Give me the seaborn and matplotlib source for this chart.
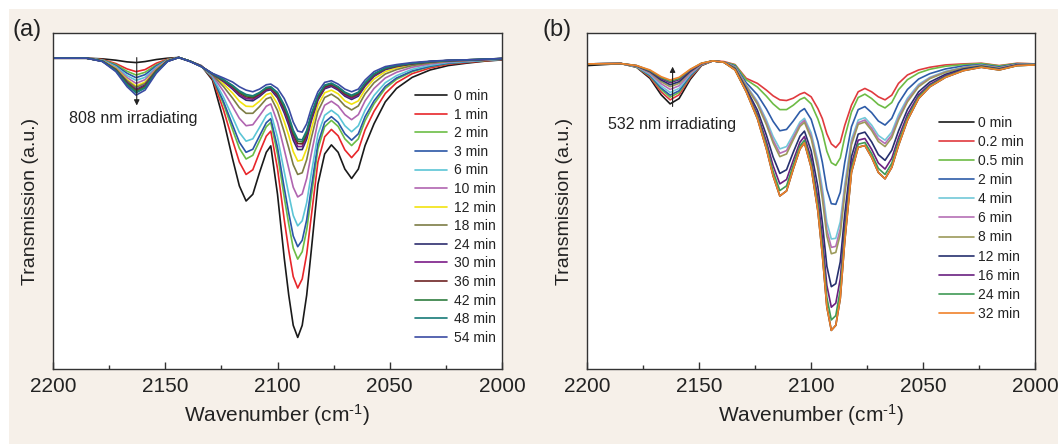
import matplotlib
matplotlib.use('Agg')
import matplotlib.pyplot as plt
from matplotlib.patches import Rectangle
from matplotlib.ticker import MultipleLocator
import seaborn as sns
import pandas as pd

#####  data (transmission in arbitrary units, 0-100 = axes height)

wavenumber = [2200, 2185, 2178, 2172, 2167, 2163, 2159, 2154, 2149, 2144, 2139, 2134,
              2129, 2124, 2120, 2117, 2114, 2111, 2108, 2105, 2103, 2100,
              2097, 2095, 2093, 2091, 2089, 2087, 2085, 2082, 2079, 2076,
              2073, 2070, 2067, 2064, 2061, 2057, 2052, 2047, 2040, 2032,
              2024, 2016, 2008, 2000]

# (a) 808 nm irradiation
times_a = ['0 min', '1 min', '2 min', '3 min', '6 min', '10 min', '12 min',
           '18 min', '24 min', '30 min', '36 min', '42 min', '48 min', '54 min']
colors_a = ['#1a1a1a', '#e8262a', '#6cbd45', '#2a56a6', '#5bc5d6', '#b065b0', '#f2e30f',
            '#7d7d45', '#2d2d6e', '#7b1b87', '#6e2424', '#2f7d3f', '#177a78', '#3b4ba3']

a_0 = [92.5, 92.5, 92.3, 91.9, 91.4, 91.2, 91.5, 92.1, 92.5, 92.7, 91.6, 90.3,
       86.0, 74.0, 62.5, 54.5, 50.0, 52.0, 58.5, 64.5, 66.4, 52.0, 33.0, 22.0, 13.0, 9.4, 13.0, 22.0,
       35.0, 55.0, 64.0, 66.7, 64.5, 59.5, 56.7, 59.5, 66.5, 73.0, 79.5, 83.5, 86.8, 89.0, 90.3, 91.0, 91.6, 92.0]
a_1 = [92.5, 92.5, 92.1, 90.9, 89.3, 88.5, 89.1, 91.0, 92.2, 92.7, 91.6, 90.2,
       86.5, 77.0, 68.0, 61.6, 57.9, 59.3, 64.5, 69.3, 70.8, 59.6, 44.4, 35.3, 27.5, 24.1, 26.8, 34.2,
       45.2, 61.6, 69.1, 71.3, 69.4, 65.2, 62.9, 65.2, 71.2, 76.7, 82.0, 85.2, 87.9, 89.6, 90.7, 91.2, 91.7, 92.1]
a_2 = [92.5, 92.5, 92.0, 90.6, 88.6, 87.5, 88.3, 90.5, 92.1, 92.7, 91.6, 90.2,
       86.8, 78.8, 71.2, 65.7, 62.5, 63.6, 67.9, 72.1, 73.4, 64.0, 51.1, 43.1, 36.0, 32.7, 34.9, 41.4,
       51.2, 65.5, 72.1, 74.0, 72.2, 68.5, 66.5, 68.5, 73.9, 78.9, 83.5, 86.2, 88.5, 90.0, 90.9, 91.4, 91.8, 92.2]
a_3 = [92.5, 92.5, 91.9, 90.3, 88.0, 86.7, 87.6, 90.2, 92.0, 92.7, 91.6, 90.2,
       86.9, 79.5, 72.6, 67.5, 64.5, 65.4, 69.4, 73.3, 74.5, 65.9, 53.9, 46.4, 39.6, 36.4, 38.3, 44.4,
       53.7, 67.1, 73.4, 75.1, 73.4, 70.0, 68.1, 70.0, 75.1, 79.8, 84.1, 86.6, 88.7, 90.1, 91.0, 91.4, 91.9, 92.2]
a_6 = [92.5, 92.5, 91.9, 90.0, 87.3, 85.9, 86.8, 89.8, 91.9, 92.7, 91.6, 90.2,
       87.1, 80.8, 74.9, 70.4, 67.8, 68.5, 71.9, 75.4, 76.3, 69.0, 58.7, 52.0, 45.7, 42.6, 44.1, 49.5,
       58.0, 69.9, 75.5, 77.0, 75.5, 72.4, 70.6, 72.4, 77.0, 81.4, 85.2, 87.3, 89.2, 90.4, 91.2, 91.5, 91.9, 92.2]
a_10 = [92.5, 92.5, 91.8, 89.7, 86.7, 85.0, 86.1, 89.5, 91.9, 92.7, 91.6, 90.2,
        87.4, 82.6, 78.1, 74.6, 72.4, 72.7, 75.4, 78.2, 78.9, 73.4, 65.3, 59.7, 54.1, 51.2, 52.1, 56.7,
        63.9, 73.7, 78.5, 79.7, 78.3, 75.7, 74.2, 75.7, 79.8, 83.5, 86.6, 88.3, 89.8, 90.8, 91.4, 91.7, 92.0, 92.3]
a_12 = [92.5, 92.5, 91.7, 89.5, 86.1, 84.2, 85.4, 89.1, 91.8, 92.7, 91.6, 90.1,
        87.7, 84.8, 82.1, 79.7, 78.2, 78.1, 79.7, 81.7, 82.1, 78.9, 73.6, 69.5, 64.7, 61.9, 62.2, 65.6,
        71.3, 78.5, 82.2, 83.0, 81.9, 79.8, 78.8, 79.8, 83.2, 86.3, 88.5, 89.6, 90.6, 91.2, 91.7, 91.9, 92.1, 92.3]
a_18 = [92.5, 92.5, 91.7, 89.3, 85.8, 83.8, 85.0, 89.0, 91.7, 92.7, 91.6, 90.1,
        87.6, 84.0, 80.6, 77.8, 76.1, 76.1, 78.1, 80.4, 80.9, 76.9, 70.5, 65.8, 60.8, 57.9, 58.4, 62.3,
        68.6, 76.7, 80.8, 81.8, 80.5, 78.3, 77.1, 78.3, 81.9, 85.2, 87.8, 89.1, 90.3, 91.1, 91.6, 91.8, 92.1, 92.3]
a_24 = [92.5, 92.5, 91.6, 89.1, 85.3, 83.2, 84.5, 88.7, 91.7, 92.7, 91.6, 90.1,
        87.8, 85.5, 83.3, 81.3, 80.0, 79.8, 81.1, 82.8, 83.1, 80.7, 76.2, 72.5, 68.1, 65.3, 65.3, 68.4,
        73.7, 80.0, 83.4, 84.1, 83.0, 81.2, 80.2, 81.2, 84.2, 87.1, 89.1, 90.0, 90.8, 91.4, 91.8, 91.9, 92.1, 92.4]
a_30 = [92.5, 92.5, 91.6, 89.0, 85.1, 83.0, 84.3, 88.6, 91.6, 92.7, 91.6, 90.1,
        87.8, 85.7, 83.6, 81.7, 80.5, 80.3, 81.5, 83.1, 83.4, 81.2, 76.9, 73.3, 69.0, 66.2, 66.2, 69.2,
        74.3, 80.4, 83.7, 84.4, 83.3, 81.6, 80.6, 81.6, 84.5, 87.3, 89.3, 90.1, 90.9, 91.5, 91.8, 91.9, 92.1, 92.4]
a_36 = [92.5, 92.5, 91.6, 88.9, 85.0, 82.8, 84.1, 88.5, 91.6, 92.7, 91.6, 90.1,
        87.9, 85.9, 84.0, 82.2, 81.0, 80.7, 81.8, 83.4, 83.7, 81.6, 77.6, 74.2, 69.9, 67.1, 67.0, 69.9,
        75.0, 80.8, 84.0, 84.7, 83.6, 81.9, 81.0, 81.9, 84.8, 87.6, 89.4, 90.2, 90.9, 91.5, 91.8, 92.0, 92.2, 92.4]
a_42 = [92.5, 92.5, 91.6, 88.9, 84.8, 82.6, 83.9, 88.5, 91.6, 92.7, 91.6, 90.0,
        87.9, 86.0, 84.2, 82.5, 81.3, 81.0, 82.1, 83.6, 83.8, 82.0, 78.1, 74.7, 70.5, 67.8, 67.6, 70.4,
        75.4, 81.1, 84.3, 84.9, 83.8, 82.2, 81.2, 82.2, 85.0, 87.7, 89.5, 90.3, 91.0, 91.5, 91.8, 92.0, 92.2, 92.4]
a_48 = [92.5, 92.5, 91.6, 88.7, 84.5, 82.2, 83.6, 88.3, 91.6, 92.7, 91.6, 90.0,
        87.9, 86.1, 84.4, 82.8, 81.7, 81.3, 82.3, 83.8, 84.0, 82.3, 78.6, 75.3, 71.1, 68.4, 68.2, 71.0,
        75.8, 81.4, 84.5, 85.1, 84.0, 82.4, 81.5, 82.4, 85.2, 87.9, 89.6, 90.4, 91.0, 91.5, 91.8, 92.0, 92.2, 92.4]
a_54 = [92.5, 92.5, 91.5, 88.5, 84.0, 81.5, 83.0, 88.0, 91.5, 92.7, 91.5, 90.0,
        88.0, 86.6, 85.4, 84.0, 83.0, 82.5, 83.3, 84.6, 84.8, 83.5, 80.5, 77.5, 73.5, 70.8, 70.5, 73.0,
        77.5, 82.5, 85.3, 85.8, 84.8, 83.3, 82.5, 83.3, 86.0, 88.5, 90.0, 90.6, 91.2, 91.6, 91.9, 92.0, 92.2, 92.4]
curves_a = [a_0, a_1, a_2, a_3, a_6, a_10, a_12, a_18, a_24, a_30, a_36, a_42, a_48, a_54]

# (b) 532 nm irradiation
times_b = ['0 min', '0.2 min', '0.5 min', '2 min', '4 min', '6 min', '8 min',
           '12 min', '16 min', '24 min', '32 min']
colors_b = ['#1a1a1a', '#e03a3e', '#6dbb45', '#2e5ca8', '#72c8d8', '#b56fb5', '#9c9a5a',
            '#26306e', '#6a2080', '#3f9a55', '#f0812a']

b_0 = [90.3, 90.9, 89.8, 86.5, 81.6, 78.9, 80.5, 86.2, 90.3, 91.7, 91.3, 89.0,
       82.5, 74.5, 65.5, 57.5, 51.5, 53.0, 59.5, 65.5, 67.3, 60.0, 47.0, 34.0, 18.5, 11.5, 13.0, 21.0,
       38.0, 58.5, 66.0, 66.5, 63.0, 58.5, 56.6, 60.0, 66.5, 74.0, 80.5, 84.0, 86.8, 88.8, 89.8, 89.0, 90.3, 90.5]
b_02 = [90.8, 90.9, 89.9, 86.9, 82.5, 80.1, 81.6, 86.7, 90.4, 91.7, 91.5, 90.6,
        86.5, 85.0, 83.0, 81.3, 80.1, 79.9, 80.6, 81.8, 82.3, 81.0, 77.5, 74.5, 70.0, 67.0, 65.9, 67.5,
        72.5, 78.5, 82.5, 83.5, 82.5, 81.0, 80.1, 81.5, 85.0, 87.5, 89.0, 89.8, 90.5, 90.8, 91.0, 90.3, 91.0, 90.8]
b_05 = [90.8, 90.9, 89.9, 87.2, 83.2, 80.9, 82.3, 87.1, 90.5, 91.7, 91.3, 90.5,
        86.1, 83.9, 81.2, 78.9, 77.2, 77.2, 78.5, 80.2, 80.8, 78.9, 74.4, 70.4, 64.8, 61.4, 60.6, 62.8,
        69.0, 76.5, 80.8, 81.8, 80.5, 78.7, 77.7, 79.3, 83.1, 86.1, 88.1, 89.2, 90.1, 90.6, 90.9, 90.2, 90.9, 90.8]
b_2 = [90.8, 90.9, 90.0, 87.4, 83.6, 81.5, 82.8, 87.3, 90.6, 91.7, 91.3, 90.2,
       85.2, 81.6, 77.4, 73.7, 70.9, 71.3, 73.8, 76.6, 77.5, 74.3, 67.7, 61.5, 53.5, 49.2, 49.0, 52.6,
       61.5, 72.1, 77.2, 78.1, 76.3, 73.8, 72.6, 74.6, 79.1, 83.2, 86.3, 87.9, 89.3, 90.2, 90.6, 89.9, 90.8, 90.7]
b_4 = [90.8, 90.9, 90.0, 87.7, 84.2, 82.3, 83.5, 87.7, 90.7, 91.7, 91.3, 89.9,
       84.5, 79.6, 74.1, 69.2, 65.5, 66.2, 69.8, 73.5, 74.6, 70.3, 61.9, 53.8, 43.7, 38.7, 38.9, 43.8,
       54.9, 68.3, 74.1, 74.8, 72.6, 69.5, 68.1, 70.5, 75.6, 80.6, 84.7, 86.8, 88.6, 89.8, 90.4, 89.6, 90.6, 90.6]
b_6 = [90.8, 90.9, 90.1, 88.0, 84.9, 83.2, 84.3, 88.0, 90.7, 91.7, 91.3, 89.8,
       84.3, 79.2, 73.3, 68.1, 64.2, 65.0, 68.9, 72.8, 74.0, 69.3, 60.6, 52.0, 41.4, 36.2, 36.5, 41.7,
       53.4, 67.4, 73.3, 74.1, 71.7, 68.5, 67.1, 69.6, 74.7, 80.0, 84.3, 86.6, 88.4, 89.7, 90.3, 89.6, 90.6, 90.6]
b_8 = [90.8, 90.9, 90.2, 88.3, 85.5, 84.0, 85.0, 88.4, 90.8, 91.7, 91.3, 89.7,
       84.1, 78.8, 72.7, 67.3, 63.2, 64.0, 68.2, 72.2, 73.4, 68.6, 59.5, 50.6, 39.6, 34.3, 34.7, 40.1,
       52.1, 66.7, 72.8, 73.5, 71.0, 67.7, 66.2, 68.8, 74.1, 79.5, 84.0, 86.4, 88.3, 89.6, 90.3, 89.5, 90.6, 90.6]
b_12 = [90.8, 90.9, 90.2, 88.5, 86.0, 84.6, 85.5, 88.6, 90.9, 91.7, 91.3, 89.4,
        83.4, 77.0, 69.6, 63.1, 58.2, 59.3, 64.5, 69.3, 70.8, 64.9, 54.2, 43.5, 30.6, 24.5, 25.4, 31.9,
        46.1, 63.2, 69.9, 70.5, 67.6, 63.8, 62.1, 65.1, 70.8, 77.2, 82.5, 85.4, 87.7, 89.3, 90.1, 89.3, 90.5, 90.6]
b_16 = [90.8, 90.9, 90.3, 88.7, 86.4, 85.2, 86.1, 88.9, 90.9, 91.7, 91.3, 89.2,
        83.0, 75.8, 67.7, 60.5, 55.1, 56.4, 62.1, 67.5, 69.2, 62.6, 50.8, 39.1, 24.9, 18.4, 19.6, 26.8,
        42.3, 61.0, 68.1, 68.6, 65.4, 61.3, 59.5, 62.7, 68.8, 75.7, 81.6, 84.7, 87.3, 89.0, 89.9, 89.2, 90.4, 90.5]
b_24 = [90.8, 90.9, 90.3, 88.8, 86.7, 85.6, 86.4, 89.1, 91.0, 91.7, 91.3, 89.1,
        82.7, 75.1, 66.5, 58.8, 53.1, 54.5, 60.7, 66.4, 68.1, 61.2, 48.7, 36.2, 21.3, 14.6, 15.9, 23.6,
        39.9, 59.6, 66.9, 67.4, 64.1, 59.7, 57.9, 61.2, 67.5, 74.7, 81.0, 84.3, 87.0, 88.9, 89.9, 89.1, 90.3, 90.5]
b_32 = [90.8, 90.9, 90.3, 89.0, 87.0, 86.0, 86.8, 89.2, 91.0, 91.7, 91.3, 89.0,
        82.5, 74.5, 65.5, 57.5, 51.5, 53.0, 59.5, 65.5, 67.3, 60.0, 47.0, 34.0, 18.5, 11.5, 13.0, 21.0,
        38.0, 58.5, 66.0, 66.5, 63.0, 58.5, 56.6, 60.0, 66.5, 74.0, 80.5, 84.0, 86.8, 88.8, 89.8, 89.0, 90.3, 90.5]
curves_b = [b_0, b_02, b_05, b_2, b_4, b_6, b_8, b_12, b_16, b_24, b_32]

#####  style

sns.set_style('ticks')
plt.rcParams['font.family'] = ['Liberation Sans', 'DejaVu Sans']
plt.rcParams['mathtext.fontset'] = 'custom'
plt.rcParams['mathtext.rm'] = 'Liberation Sans'
plt.rcParams['mathtext.it'] = 'Liberation Sans:italic'
text_col = '#222222'


def long_form(curves, labels):
    frames = []
    for lab, vals in zip(labels, curves):
        frames.append(pd.DataFrame({'wavenumber': wavenumber, 'T': vals, 'time': lab}))
    return pd.concat(frames, ignore_index=True)


def draw_panel(ax, curves, labels, colors, leg_xy, handle_len, text_pad, spacing):
    df = long_form(curves, labels)
    sns.lineplot(data=df, x='wavenumber', y='T', hue='time', hue_order=labels,
                 palette=dict(zip(labels, colors)), estimator=None, sort=False,
                 linewidth=1.2, ax=ax)
    for ln in ax.get_lines():
        ln.set_solid_joinstyle('round')
    ax.set_xlim(2200, 2000)
    ax.set_ylim(0, 100)
    ax.set_yticks([])
    ax.xaxis.set_major_locator(MultipleLocator(50))
    ax.xaxis.set_minor_locator(MultipleLocator(25))
    ax.tick_params(axis='x', which='both', direction='in', bottom=True, top=False,
                   width=1.0, colors='#333333', labelcolor=text_col)
    ax.tick_params(axis='x', which='major', length=5, labelsize=15, pad=6)
    ax.tick_params(axis='x', which='minor', length=3)
    for s in ax.spines.values():
        s.set_color('#333333')
        s.set_linewidth(1.0)
    ax.set_xlabel('Wavenumber (cm$^{\u20101}$)', fontsize=15, labelpad=4, color=text_col)
    ax.set_ylabel('Transmission (a.u.)', fontsize=14, labelpad=10, color=text_col)
    ax.set_facecolor('white')

    old = ax.get_legend()
    handles = old.legend_handles
    labs = [t.get_text() for t in old.get_texts()]
    old.remove()
    ax.legend(handles, labs, loc='upper left', bbox_to_anchor=leg_xy, frameon=False,
              fontsize=10, handlelength=handle_len, handletextpad=text_pad,
              labelspacing=spacing, borderpad=0, borderaxespad=0, labelcolor=text_col)


fig = plt.figure(figsize=(10.58, 4.44), dpi=100, facecolor='white')
fig.patches.append(Rectangle((9 / 1058, 0), 1, 1 - 9 / 444, transform=fig.transFigure,
                             facecolor='#f6f0e9', edgecolor='none', zorder=-10))

ax_a = fig.add_axes([0.0501, 0.1689, 0.4244, 0.7568])
ax_b = fig.add_axes([0.5551, 0.1689, 0.4232, 0.7568])

draw_panel(ax_a, curves_a, times_a, colors_a, (0.806, 0.833), 2.3, 0.5, 0.33)
draw_panel(ax_b, curves_b, times_b, colors_b, (0.786, 0.754), 2.5, 0.3, 0.37)

ax_a.text(2193, 74.7, '808 nm irradiating', fontsize=11.5, va='center', ha='left', color=text_col)
ax_a.annotate('', xy=(2162.7, 77.6), xytext=(2162.7, 93.5),
              arrowprops=dict(arrowstyle='-|>', color='#222222', lw=0.8, mutation_scale=8))
ax_b.text(2190.6, 72.9, '532 nm irradiating', fontsize=11.5, va='center', ha='left', color=text_col)
ax_b.annotate('', xy=(2161.9, 90.8), xytext=(2161.9, 77.3),
              arrowprops=dict(arrowstyle='-|>', color='#222222', lw=0.8, mutation_scale=8))

fig.text(12 / 1058, 1 - 30 / 444, '(a)', fontsize=17, va='center', ha='left', color=text_col)
fig.text(542 / 1058, 1 - 30 / 444, '(b)', fontsize=17, va='center', ha='left', color=text_col)

plt.savefig('out.png', dpi=100, facecolor=fig.get_facecolor())
